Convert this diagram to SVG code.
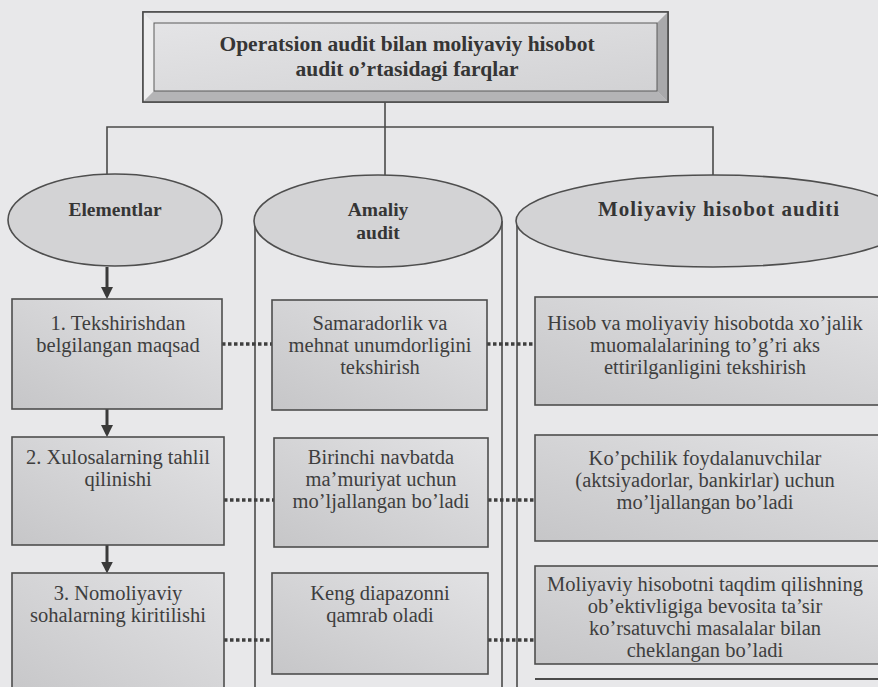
<svg xmlns="http://www.w3.org/2000/svg" width="878" height="687" viewBox="0 0 878 687">
<defs>
  <linearGradient id="boxg" x1="0" y1="1" x2="1" y2="0">
    <stop offset="0" stop-color="#c6c6c8"/>
    <stop offset="1" stop-color="#e2e2e4"/>
  </linearGradient>
  <linearGradient id="faceg" x1="0" y1="0" x2="1" y2="1">
    <stop offset="0" stop-color="#e4e4e6"/>
    <stop offset="1" stop-color="#d2d2d4"/>
  </linearGradient>
  <marker id="arr" viewBox="0 0 10 10" refX="7" refY="5" markerWidth="4" markerHeight="4" orient="auto" markerUnits="strokeWidth">
    <path d="M0,0 L10,5 L0,10 z" fill="#3a3a3a"/>
  </marker>
</defs>
<style>
  .bg{fill:#e8e8ea}
  .box{fill:url(#boxg);stroke:#4e4e4e;stroke-width:1.6}
  .ell{fill:#d3d3d5;stroke:#4e4e4e;stroke-width:1.6}
  .ln{fill:none;stroke:#4a4a4a;stroke-width:1.6}
  .dot{fill:none;stroke:#3e3e3e;stroke-width:3.5;stroke-dasharray:3.5 2.5}
  .arrow{fill:none;stroke:#3a3a3a;stroke-width:3;marker-end:url(#arr)}
  .t{font-family:"Liberation Serif","Times New Roman",serif;font-size:20.5px;fill:#3e3e3e;text-anchor:middle}
  .b{font-weight:bold;fill:#353535;font-size:19.5px}
  .h{font-size:21.5px}
</style>
<rect class="bg" x="0" y="0" width="878" height="687"/>

<g id="connectors">
  <line class="ln" x1="385" y1="102" x2="385" y2="175"/>
  <polyline class="ln" points="107,175 107,127 713,127 713,176"/>
  <line class="ln" x1="255" y1="221" x2="255" y2="687"/>
  <line class="ln" x1="502" y1="221" x2="502" y2="687"/>
  <line class="ln" x1="517" y1="221" x2="517" y2="687"/>
  <line class="arrow" x1="107" y1="267" x2="107" y2="295.5"/>
  <line class="arrow" x1="107" y1="409" x2="107" y2="433.5"/>
  <line class="arrow" x1="107" y1="545" x2="107" y2="570"/>
  <line class="dot" x1="222" y1="344" x2="272" y2="344"/>
  <line class="dot" x1="487" y1="344" x2="535" y2="344"/>
  <line class="dot" x1="224" y1="500" x2="274" y2="500"/>
  <line class="dot" x1="488" y1="500" x2="535" y2="500"/>
  <line class="dot" x1="224" y1="640" x2="272" y2="640"/>
  <line class="dot" x1="488" y1="640" x2="535" y2="640"/>
  <line class="ln" x1="535" y1="679" x2="878" y2="679" style="stroke-width:2"/>
</g>

<g id="title">
  <rect x="143" y="12" width="525" height="90" fill="#d8d8da" stroke="#4e4e4e" stroke-width="1.6"/>
  <polygon points="143,12 668,12 657,23 154,23" fill="#e6e6e8"/>
  <polygon points="143,12 154,23 154,91 143,102" fill="#eeeeef"/>
  <polygon points="143,102 154,91 657,91 668,102" fill="#b4b4b6"/>
  <polygon points="668,12 657,23 657,91 668,102" fill="#a9a9ab"/>
  <rect x="154" y="23" width="503" height="68" fill="url(#faceg)" stroke="#5a5a5a" stroke-width="1"/>
  <rect x="143" y="12" width="525" height="90" fill="none" stroke="#4e4e4e" stroke-width="1.6"/>
  <text class="t b h" x="407" y="51">Operatsion audit bilan moliyaviy hisobot</text>
  <text class="t b h" x="407" y="76">audit o’rtasidagi farqlar</text>
</g>

<g id="elementlar">
  <ellipse class="ell" cx="115" cy="220" rx="107" ry="46"/>
  <text class="t b" x="115" y="216">Elementlar</text>
</g>
<g id="amaliy">
  <ellipse class="ell" cx="378" cy="221" rx="124" ry="46"/>
  <text class="t b" x="378" y="216">Amaliy</text>
  <text class="t b" x="378" y="239">audit</text>
</g>
<g id="moliyaviy">
  <ellipse class="ell" cx="713" cy="221" rx="197" ry="46"/>
  <text class="t b" x="719" y="216" style="font-size:21px;letter-spacing:1px">Moliyaviy hisobot auditi</text>
</g>

<g id="e1">
  <rect class="box" x="12" y="299" width="210" height="110"/>
  <text class="t" x="118" y="330">1. Tekshirishdan</text>
  <text class="t" x="118" y="352">belgilangan maqsad</text>
</g>
<g id="e2">
  <rect class="box" x="12" y="437" width="212" height="108"/>
  <text class="t" x="118" y="464">2. Xulosalarning tahlil</text>
  <text class="t" x="118" y="486">qilinishi</text>
</g>
<g id="e3">
  <rect class="box" x="12" y="573" width="212" height="130"/>
  <text class="t" x="118" y="600">3. Nomoliyaviy</text>
  <text class="t" x="118" y="622">sohalarning kiritilishi</text>
</g>

<g id="a1">
  <rect class="box" x="272" y="300" width="215" height="110"/>
  <text class="t" x="380" y="330">Samaradorlik va</text>
  <text class="t" x="380" y="352">mehnat unumdorligini</text>
  <text class="t" x="380" y="374">tekshirish</text>
</g>
<g id="a2">
  <rect class="box" x="274" y="438" width="214" height="109"/>
  <text class="t" x="381" y="464">Birinchi navbatda</text>
  <text class="t" x="381" y="486">ma’muriyat uchun</text>
  <text class="t" x="381" y="508">mo’ljallangan bo’ladi</text>
</g>
<g id="a3">
  <rect class="box" x="272" y="573" width="216" height="101"/>
  <text class="t" x="380" y="600">Keng diapazonni</text>
  <text class="t" x="380" y="622">qamrab oladi</text>
</g>

<g id="m1">
  <rect class="box" x="535" y="297" width="360" height="108"/>
  <text class="t" x="705" y="330">Hisob va moliyaviy hisobotda xo’jalik</text>
  <text class="t" x="705" y="352">muomalalarining to’g’ri aks</text>
  <text class="t" x="705" y="374">ettirilganligini tekshirish</text>
</g>
<g id="m2">
  <rect class="box" x="535" y="435" width="360" height="106"/>
  <text class="t" x="705" y="465">Ko’pchilik foydalanuvchilar</text>
  <text class="t" x="705" y="487">(aktsiyadorlar, bankirlar) uchun</text>
  <text class="t" x="705" y="509">mo’ljallangan bo’ladi</text>
</g>
<g id="m3">
  <rect class="box" x="535" y="566" width="360" height="98"/>
  <text class="t" x="705" y="591">Moliyaviy hisobotni taqdim qilishning</text>
  <text class="t" x="705" y="613">ob’ektivligiga bevosita ta’sir</text>
  <text class="t" x="705" y="635">ko’rsatuvchi masalalar bilan</text>
  <text class="t" x="705" y="657">cheklangan bo’ladi</text>
</g>
</svg>
